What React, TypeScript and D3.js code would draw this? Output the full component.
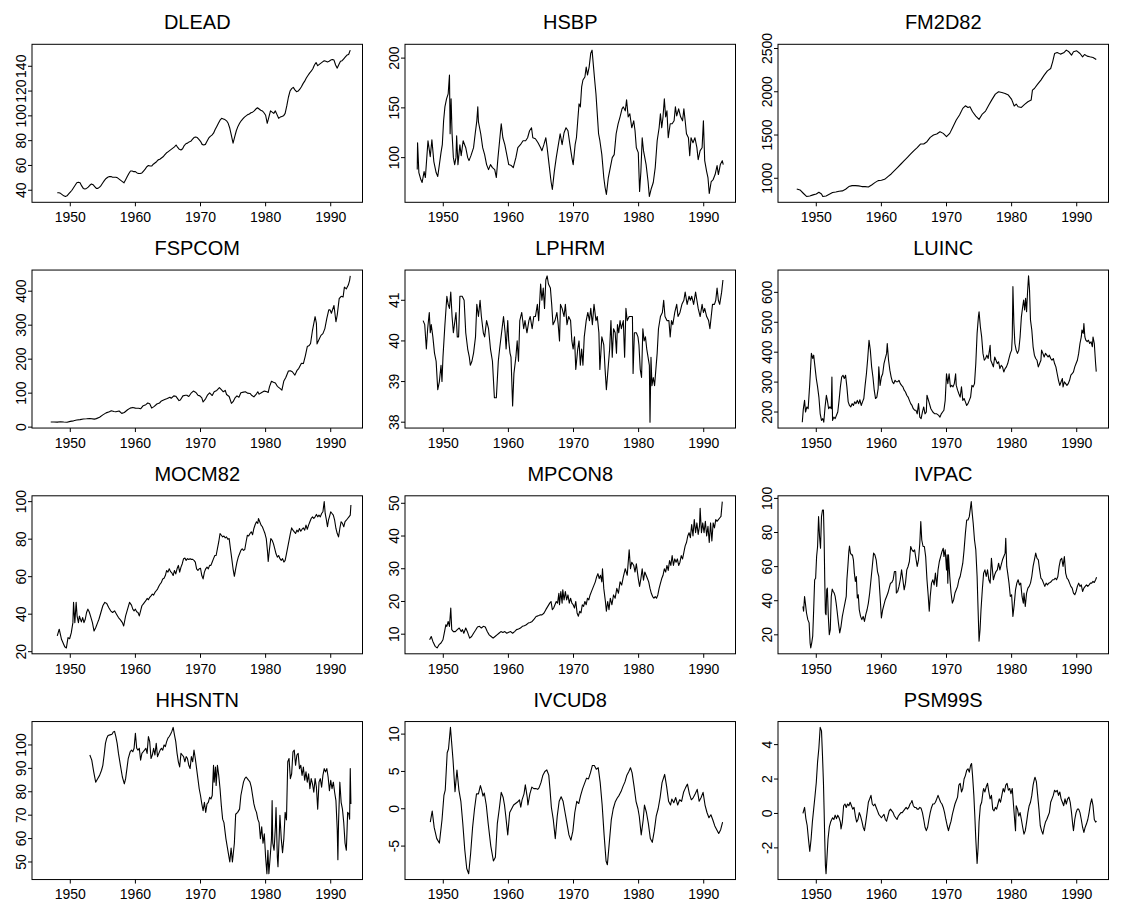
import React from "react";
import * as d3 from "d3";

type Pt = [number, number];

// Shared monthly time base of the data set (all panels use the same x range)
const seriesStart = 1946;
const seriesEnd = 1993;
const xTicks = [1950, 1960, 1970, 1980, 1990];

// DLEAD, quarterly from 1948 Q1
const dleadStartYear = 1948;
const dleadQuarterly = [
  38, 38, 37.5, 36.5, 35.5, 35, 35.5, 37, 38.5, 40, 42, 44, 46, 46.5, 46, 43.5,
  41.5, 41, 41.5, 42.5, 44, 45, 44.5, 43, 41.5, 41.5, 42.5, 44, 46, 48, 49.5, 50.5,
  51, 51, 50.5, 50.5, 50.5, 50, 49, 48, 47, 46, 48.5, 51, 53.5, 55.5, 55.5, 55,
  55, 54, 53.5, 53.5, 54, 55.5, 57, 59, 60, 59.5, 59.5, 61, 62, 63, 64.5, 65,
  66, 67, 68.5, 70, 71, 72, 73, 74, 75, 76.5, 74.5, 73, 72.5, 73.5, 76, 77.5,
  78, 79, 79.5, 81, 82.5, 83, 82.5, 81, 79.5, 77, 76.5, 77, 79.5, 82, 83.5, 84.5,
  86, 89, 91.5, 94, 96.5, 98, 97.5, 97, 96, 94, 90, 84, 78, 83, 88, 91.5,
  94, 96, 97.5, 99, 100, 101, 101.5, 102.5, 103, 104, 105.5, 106.5, 105.5, 104.5, 104, 102.5,
  100.5, 94, 99, 104, 103, 102, 104, 101, 98, 99, 99.5, 100, 102, 108, 115, 120,
  122, 123, 121, 119.5, 120, 121.5, 123.5, 126, 128, 130.5, 132.5, 134.5, 136, 138, 141, 143,
  140.5, 141.5, 142.5, 143.5, 144.5, 144, 143.5, 144, 145, 145.5, 145, 141, 138.5, 141.5, 144, 144.5,
  146, 147.5, 149, 149.5, 153,
];

const hsbpSeries: Pt[] = [
  [1946.0, 88], [1946.05, 115], [1946.25, 85], [1946.55, 78], [1946.75, 75], [1947.05, 86], [1947.25, 80],
  [1947.65, 117], [1948.0, 101], [1948.25, 118], [1948.55, 96], [1948.9, 85], [1949.15, 81], [1949.4, 93],
  [1949.65, 105], [1949.85, 113], [1950.05, 137], [1950.25, 151], [1950.5, 159], [1950.75, 164], [1950.95, 183],
  [1951.05, 124], [1951.2, 159], [1951.35, 124], [1951.55, 100], [1951.75, 93], [1951.95, 100], [1952.05, 122],
  [1952.25, 93], [1952.55, 113], [1952.75, 102], [1953.05, 117], [1953.45, 110], [1953.75, 100], [1953.95, 97],
  [1954.25, 102], [1954.65, 110], [1954.9, 124], [1955.15, 137], [1955.3, 151], [1955.4, 136], [1955.75, 124],
  [1956.05, 110], [1956.35, 103], [1956.65, 93], [1956.95, 88], [1957.25, 93], [1957.55, 90], [1957.9, 88],
  [1958.15, 80], [1958.4, 100], [1958.65, 117], [1958.9, 134], [1959.15, 120], [1959.45, 113], [1959.75, 103],
  [1960.05, 93], [1960.45, 92], [1960.75, 90], [1961.15, 100], [1961.45, 110], [1961.85, 113], [1962.25, 117],
  [1962.65, 117], [1962.95, 120], [1963.25, 127], [1963.55, 130], [1963.75, 120], [1964.15, 119], [1964.55, 115],
  [1964.95, 110], [1965.15, 107], [1965.45, 113], [1965.75, 120], [1965.95, 110], [1966.25, 93], [1966.55, 76],
  [1966.75, 68], [1967.05, 86], [1967.35, 100], [1967.65, 112], [1967.95, 124], [1968.25, 113], [1968.55, 125],
  [1968.85, 130], [1969.15, 127], [1969.45, 113], [1969.75, 100], [1969.95, 93], [1970.25, 113], [1970.45, 120],
  [1970.65, 137], [1970.85, 154], [1971.05, 151], [1971.25, 171], [1971.45, 178], [1971.75, 181], [1971.95, 191],
  [1972.15, 183], [1972.4, 191], [1972.65, 205], [1972.85, 208], [1973.05, 193], [1973.25, 178], [1973.45, 164],
  [1973.65, 144], [1973.85, 124], [1974.05, 117], [1974.35, 103], [1974.65, 80], [1974.85, 70], [1975.05, 63],
  [1975.35, 80], [1975.65, 90], [1975.95, 100], [1976.25, 103], [1976.55, 124], [1976.85, 134], [1977.15, 141],
  [1977.45, 149], [1977.65, 151], [1977.95, 147], [1978.15, 158], [1978.4, 141], [1978.65, 144], [1978.95, 130],
  [1979.25, 137], [1979.45, 127], [1979.65, 110], [1979.95, 105], [1980.15, 66], [1980.35, 86], [1980.55, 120],
  [1980.75, 107], [1980.95, 100], [1981.15, 93], [1981.45, 76], [1981.65, 61], [1981.95, 69], [1982.25, 75],
  [1982.55, 90], [1982.85, 117], [1983.15, 130], [1983.35, 144], [1983.55, 130], [1983.75, 141], [1983.95, 159],
  [1984.15, 141], [1984.35, 147], [1984.55, 120], [1984.85, 134], [1985.15, 134], [1985.45, 137], [1985.65, 151],
  [1985.85, 142], [1986.15, 149], [1986.45, 141], [1986.75, 137], [1986.95, 149], [1987.15, 137], [1987.35, 124],
  [1987.65, 120], [1987.85, 102], [1988.05, 120], [1988.35, 115], [1988.65, 120], [1988.95, 110], [1989.15, 98],
  [1989.45, 107], [1989.75, 110], [1989.95, 137], [1990.15, 97], [1990.45, 86], [1990.65, 80], [1990.85, 64],
  [1991.15, 76], [1991.45, 78], [1991.75, 83], [1992.05, 92], [1992.25, 83], [1992.55, 93], [1992.85, 97], [1993.0, 93],
];

const fm2d82Series: Pt[] = [
  [1947.0, 877], [1947.5, 865], [1948.0, 827], [1948.5, 790], [1949.0, 796], [1949.5, 808], [1950.0, 819],
  [1950.4, 838], [1950.8, 819], [1951.0, 790], [1951.5, 796], [1952.0, 815], [1952.5, 835], [1953.0, 842],
  [1953.5, 850], [1954.0, 854], [1954.5, 873], [1955.0, 904], [1955.5, 915], [1956.0, 915], [1956.5, 912],
  [1957.0, 904], [1957.5, 904], [1958.0, 900], [1958.5, 923], [1959.0, 950], [1959.5, 973], [1960.0, 977],
  [1960.5, 988], [1961.0, 1019], [1961.5, 1050], [1962.0, 1088], [1962.5, 1127], [1963.0, 1165], [1963.5, 1204],
  [1964.0, 1242], [1964.5, 1281], [1965.0, 1319], [1965.5, 1354], [1966.0, 1396], [1966.5, 1396], [1967.0, 1423],
  [1967.5, 1473], [1968.0, 1500], [1968.5, 1512], [1969.0, 1538], [1969.5, 1519], [1970.0, 1481], [1970.5, 1519],
  [1971.0, 1596], [1971.5, 1673], [1972.0, 1731], [1972.5, 1808], [1972.9, 1838], [1973.3, 1819], [1973.6, 1827],
  [1974.0, 1769], [1974.5, 1719], [1975.0, 1681], [1975.5, 1742], [1976.0, 1777], [1976.5, 1846], [1977.0, 1912],
  [1977.5, 1973], [1978.0, 2000], [1978.5, 1992], [1979.0, 1981], [1979.5, 1962], [1980.0, 1912], [1980.4, 1835],
  [1980.7, 1858], [1981.0, 1827], [1981.5, 1819], [1982.0, 1854], [1982.5, 1885], [1983.0, 1904], [1983.2, 2019],
  [1983.5, 2038], [1984.0, 2088], [1984.5, 2135], [1985.0, 2192], [1985.5, 2242], [1986.0, 2269], [1986.3, 2346],
  [1986.6, 2442], [1987.0, 2454], [1987.5, 2435], [1988.0, 2450], [1988.4, 2481], [1988.8, 2462], [1989.2, 2423],
  [1989.5, 2462], [1990.0, 2473], [1990.5, 2442], [1990.9, 2404], [1991.2, 2431], [1991.6, 2412], [1992.0, 2404],
  [1992.5, 2396], [1993.0, 2373],
];

const fspcomSeries: Pt[] = [
  [1947.0, 15.2], [1947.5, 15], [1948.0, 14.8], [1948.5, 16], [1949.0, 15], [1949.5, 14.5], [1950.0, 17],
  [1950.5, 18.5], [1951.0, 21], [1951.5, 22], [1952.0, 24], [1952.5, 24.5], [1953.0, 25.5], [1953.7, 23.5],
  [1954.0, 25], [1954.5, 29], [1955.0, 36], [1955.5, 42], [1956.0, 45], [1956.3, 48], [1956.7, 46], [1957.0, 45],
  [1957.5, 47.5], [1957.9, 40.5], [1958.3, 43], [1958.8, 51], [1959.2, 56], [1959.6, 58], [1960.0, 56],
  [1960.5, 55.5], [1960.8, 54], [1961.2, 63], [1961.6, 66], [1961.9, 71], [1962.2, 69], [1962.5, 56], [1962.9, 61],
  [1963.3, 68], [1963.7, 71], [1964.0, 77], [1964.5, 81], [1964.9, 84], [1965.3, 88], [1965.5, 85], [1965.9, 92],
  [1966.2, 91], [1966.7, 78], [1966.9, 80], [1967.3, 92], [1967.7, 94], [1967.9, 94], [1968.2, 90], [1968.6, 101],
  [1968.9, 106], [1969.3, 102], [1969.6, 94], [1969.9, 92], [1970.2, 86], [1970.4, 74], [1970.8, 84], [1971.1, 95],
  [1971.4, 101], [1971.8, 93], [1972.1, 104], [1972.5, 108], [1972.9, 116], [1973.2, 110], [1973.5, 104],
  [1973.8, 108], [1974.0, 96], [1974.4, 90], [1974.75, 70], [1975.0, 75], [1975.3, 86], [1975.6, 92], [1975.9, 88],
  [1976.2, 101], [1976.6, 103], [1976.9, 104], [1977.2, 100], [1977.6, 99], [1977.9, 93], [1978.2, 89], [1978.6, 98],
  [1978.8, 104], [1979.0, 97], [1979.4, 102], [1979.8, 106], [1980.2, 104], [1980.4, 102], [1980.6, 119],
  [1980.9, 135], [1981.2, 132], [1981.5, 130], [1981.8, 120], [1982.2, 114], [1982.5, 109], [1982.8, 136],
  [1983.1, 146], [1983.5, 165], [1983.8, 166], [1984.1, 163], [1984.5, 153], [1984.8, 166], [1985.1, 173],
  [1985.5, 188], [1985.8, 187], [1986.1, 210], [1986.4, 237], [1986.7, 240], [1986.9, 246], [1987.2, 285],
  [1987.6, 325], [1987.8, 305], [1987.9, 245], [1988.2, 258], [1988.5, 270], [1988.8, 275], [1989.1, 290],
  [1989.4, 320], [1989.7, 345], [1989.9, 345], [1990.1, 335], [1990.5, 358], [1990.8, 310], [1991.0, 330],
  [1991.3, 378], [1991.6, 385], [1991.9, 383], [1992.1, 412], [1992.4, 407], [1992.7, 418], [1992.9, 432],
  [1993.0, 445],
];

const lphrmSeries: Pt[] = [
  [1946.9, 40.5], [1947.15, 40.4], [1947.4, 39.8], [1947.6, 40.3], [1947.85, 40.7], [1948.0, 40.2], [1948.15, 40.4],
  [1948.4, 40.1], [1948.65, 39.7], [1948.9, 39.5], [1949.15, 38.8], [1949.4, 39.0], [1949.65, 39.4], [1949.8, 39.0],
  [1949.95, 39.6], [1950.25, 40.4], [1950.55, 41.1], [1950.75, 40.9], [1950.95, 40.8], [1951.15, 41.2],
  [1951.35, 40.6], [1951.55, 40.2], [1951.95, 40.7], [1952.15, 40.1], [1952.35, 40.1], [1952.55, 41.1],
  [1952.9, 41.1], [1953.2, 41.0], [1953.45, 40.2], [1953.75, 39.8], [1954.0, 39.6], [1954.15, 39.4], [1954.4, 39.5],
  [1954.65, 39.7], [1954.95, 40.1], [1955.15, 40.9], [1955.4, 40.6], [1955.65, 41.0], [1955.85, 40.6],
  [1956.15, 40.2], [1956.35, 40.1], [1956.65, 40.5], [1956.95, 40.3], [1957.25, 39.8], [1957.55, 39.5],
  [1957.85, 38.6], [1958.15, 38.6], [1958.45, 39.5], [1958.65, 39.8], [1958.95, 40.2], [1959.25, 40.6],
  [1959.5, 40.2], [1959.65, 39.8], [1959.9, 40.5], [1960.05, 40.0], [1960.25, 39.7], [1960.4, 39.6],
  [1960.65, 38.4], [1960.85, 39.2], [1961.15, 39.6], [1961.35, 40.0], [1961.55, 39.5], [1961.75, 40.5],
  [1962.05, 40.7], [1962.35, 40.3], [1962.55, 40.5], [1962.85, 40.2], [1963.15, 40.5], [1963.35, 40.6],
  [1963.65, 40.3], [1963.9, 40.6], [1964.15, 40.6], [1964.45, 40.9], [1964.65, 40.5], [1964.95, 41.4],
  [1965.15, 41.0], [1965.35, 41.3], [1965.55, 40.8], [1965.75, 41.5], [1965.95, 41.6], [1966.15, 41.4],
  [1966.45, 41.3], [1966.65, 40.9], [1966.85, 40.4], [1967.15, 40.5], [1967.45, 40.7], [1967.65, 40.4],
  [1967.85, 40.0], [1968.0, 40.9], [1968.25, 40.8], [1968.55, 40.6], [1968.75, 40.9], [1969.0, 40.4],
  [1969.25, 40.6], [1969.55, 40.5], [1969.75, 40.0], [1969.95, 39.8], [1970.15, 40.1], [1970.35, 39.3],
  [1970.65, 39.8], [1970.85, 40.0], [1971.05, 39.4], [1971.25, 39.8], [1971.45, 39.4], [1971.65, 40.1],
  [1971.95, 40.5], [1972.2, 40.7], [1972.45, 40.5], [1972.65, 40.8], [1972.9, 40.4], [1973.15, 40.9],
  [1973.45, 40.5], [1973.65, 40.6], [1973.9, 40.2], [1974.05, 39.3], [1974.35, 40.1], [1974.65, 39.9],
  [1974.85, 39.3], [1975.05, 38.8], [1975.25, 39.2], [1975.55, 39.8], [1975.75, 40.5], [1975.95, 39.6],
  [1976.15, 40.3], [1976.4, 40.2], [1976.6, 39.7], [1976.75, 40.4], [1976.95, 40.2], [1977.15, 40.5],
  [1977.35, 40.3], [1977.65, 40.5], [1977.85, 39.6], [1978.05, 40.8], [1978.25, 40.5], [1978.55, 40.6],
  [1978.75, 40.6], [1979.05, 40.6], [1979.15, 39.2], [1979.35, 40.2], [1979.65, 40.2], [1979.9, 40.1],
  [1980.05, 39.9], [1980.25, 39.3], [1980.45, 39.1], [1980.65, 40.3], [1980.85, 40.0], [1981.05, 40.1],
  [1981.25, 39.8], [1981.45, 39.6], [1981.65, 39.4], [1981.75, 38.0], [1981.9, 39.6], [1982.05, 38.9],
  [1982.25, 39.1], [1982.45, 38.9], [1982.65, 39.3], [1982.85, 39.7], [1983.05, 40.3], [1983.35, 40.6],
  [1983.65, 40.7], [1983.85, 41.0], [1984.05, 40.6], [1984.35, 40.5], [1984.65, 40.5], [1984.85, 40.1],
  [1985.05, 40.5], [1985.25, 40.4], [1985.55, 40.7], [1985.85, 40.9], [1986.05, 40.6], [1986.35, 40.7],
  [1986.65, 40.9], [1986.95, 41.0], [1987.15, 41.2], [1987.45, 40.9], [1987.75, 41.1], [1987.95, 41.0],
  [1988.15, 41.1], [1988.45, 40.9], [1988.75, 41.2], [1988.95, 41.0], [1989.15, 40.8], [1989.45, 40.6],
  [1989.75, 40.9], [1989.95, 40.7], [1990.15, 40.8], [1990.45, 40.6], [1990.75, 40.5], [1990.95, 40.3],
  [1991.15, 40.6], [1991.35, 40.9], [1991.65, 40.9], [1991.85, 41.0], [1992.05, 41.3], [1992.25, 41.0],
  [1992.45, 40.9], [1992.75, 41.2], [1992.95, 41.5],
];

const luincSeries: Pt[] = [
  [1947.85, 166], [1948.0, 208], [1948.2, 239], [1948.35, 200], [1948.55, 217], [1948.75, 211], [1949.0, 295],
  [1949.25, 396], [1949.45, 379], [1949.6, 390], [1949.8, 351], [1950.0, 312], [1950.2, 284], [1950.4, 250],
  [1950.6, 194], [1950.8, 172], [1951.0, 178], [1951.15, 166], [1951.35, 217], [1951.55, 256], [1951.7, 239],
  [1951.9, 211], [1952.1, 217], [1952.3, 211], [1952.4, 317], [1952.5, 172], [1952.7, 183], [1952.9, 178],
  [1953.1, 189], [1953.3, 200], [1953.5, 239], [1953.7, 284], [1953.9, 317], [1954.1, 323], [1954.3, 312],
  [1954.5, 323], [1954.7, 284], [1954.9, 234], [1955.1, 222], [1955.3, 217], [1955.5, 228], [1955.7, 222],
  [1955.9, 234], [1956.1, 228], [1956.3, 239], [1956.5, 228], [1956.7, 241], [1956.9, 222], [1957.1, 234],
  [1957.3, 245], [1957.5, 289], [1957.7, 328], [1957.9, 379], [1958.1, 440], [1958.3, 407], [1958.5, 351],
  [1958.7, 317], [1958.9, 273], [1959.1, 245], [1959.3, 250], [1959.5, 278], [1959.6, 351], [1959.8, 289],
  [1960.0, 317], [1960.2, 328], [1960.4, 362], [1960.6, 379], [1960.8, 396], [1960.9, 429], [1961.1, 373],
  [1961.3, 340], [1961.5, 317], [1961.7, 301], [1961.9, 295], [1962.1, 306], [1962.3, 301], [1962.5, 301],
  [1962.7, 306], [1962.9, 295], [1963.1, 289], [1963.3, 284], [1963.5, 273], [1963.7, 267], [1963.9, 256],
  [1964.1, 250], [1964.3, 239], [1964.5, 228], [1964.7, 222], [1964.9, 211], [1965.1, 206], [1965.3, 206],
  [1965.5, 194], [1965.7, 228], [1965.9, 183], [1966.1, 178], [1966.3, 200], [1966.5, 217], [1966.7, 194],
  [1966.9, 200], [1967.0, 256], [1967.3, 234], [1967.6, 211], [1967.9, 200], [1968.2, 194], [1968.5, 194],
  [1968.8, 189], [1969.0, 183], [1969.2, 194], [1969.4, 200], [1969.6, 206], [1969.8, 239], [1970.0, 328],
  [1970.2, 295], [1970.4, 328], [1970.6, 284], [1970.8, 289], [1971.0, 284], [1971.2, 295], [1971.4, 328],
  [1971.5, 289], [1971.7, 273], [1971.9, 261], [1972.1, 250], [1972.3, 284], [1972.5, 239], [1972.7, 245],
  [1972.9, 234], [1973.1, 222], [1973.3, 228], [1973.5, 239], [1973.7, 250], [1973.9, 289], [1974.1, 284],
  [1974.3, 295], [1974.5, 362], [1974.7, 463], [1974.9, 518], [1975.0, 535], [1975.2, 485], [1975.4, 451],
  [1975.6, 396], [1975.8, 373], [1976.0, 379], [1976.2, 390], [1976.4, 379], [1976.6, 407], [1976.7, 423],
  [1976.8, 373], [1977.0, 362], [1977.2, 351], [1977.4, 384], [1977.6, 373], [1977.8, 362], [1978.0, 368],
  [1978.2, 345], [1978.4, 356], [1978.6, 351], [1978.8, 334], [1979.0, 345], [1979.2, 351], [1979.4, 362],
  [1979.6, 379], [1979.8, 396], [1980.0, 407], [1980.1, 451], [1980.2, 619], [1980.35, 496], [1980.5, 429],
  [1980.7, 407], [1980.9, 396], [1981.1, 407], [1981.3, 451], [1981.5, 518], [1981.7, 552], [1981.85, 574],
  [1982.0, 541], [1982.15, 580], [1982.3, 535], [1982.45, 602], [1982.6, 655], [1982.75, 608], [1982.9, 507],
  [1983.1, 474], [1983.3, 418], [1983.5, 390], [1983.7, 379], [1983.9, 373], [1984.1, 351], [1984.3, 362],
  [1984.5, 373], [1984.6, 407], [1984.8, 396], [1985.0, 384], [1985.2, 396], [1985.4, 390], [1985.6, 384],
  [1985.8, 390], [1986.0, 379], [1986.2, 373], [1986.4, 379], [1986.6, 362], [1986.8, 351], [1987.0, 328],
  [1987.2, 306], [1987.4, 289], [1987.6, 301], [1987.8, 312], [1987.9, 284], [1988.1, 301], [1988.3, 295],
  [1988.5, 289], [1988.7, 295], [1988.9, 306], [1989.1, 323], [1989.3, 328], [1989.5, 334], [1989.7, 351],
  [1989.9, 362], [1990.1, 373], [1990.3, 396], [1990.5, 429], [1990.7, 451], [1990.8, 474], [1991.0, 463],
  [1991.1, 496], [1991.25, 451], [1991.4, 440], [1991.6, 435], [1991.8, 440], [1992.0, 429], [1992.2, 435],
  [1992.4, 418], [1992.5, 451], [1992.7, 429], [1992.9, 362], [1993.0, 335],
];

const mocm82Series: Pt[] = [
  [1948.0, 28.4], [1948.3, 32], [1948.65, 26.6], [1949.15, 22.6], [1949.4, 22], [1949.65, 27.5], [1949.9, 26.9],
  [1950.15, 30], [1950.4, 35.5], [1950.5, 46.3], [1950.7, 35.5], [1950.9, 46.3], [1951.05, 39], [1951.25, 35.5],
  [1951.4, 39], [1951.7, 35.9], [1951.9, 38.2], [1952.1, 35.5], [1952.3, 37.3], [1952.5, 40.9], [1952.7, 42.7],
  [1952.9, 41.3], [1953.1, 39.1], [1953.4, 35.5], [1953.65, 31], [1953.9, 32.8], [1954.2, 35.5], [1954.4, 37.3],
  [1954.7, 40.9], [1955.0, 44.5], [1955.3, 46.3], [1955.6, 45.7], [1955.9, 43.6], [1956.2, 41.8], [1956.5, 40.9],
  [1956.8, 41.8], [1957.1, 40], [1957.4, 38.2], [1957.7, 37], [1958.0, 35.5], [1958.2, 33.7], [1958.5, 39.1],
  [1958.8, 42.7], [1959.1, 46.3], [1959.4, 44.8], [1959.6, 42.7], [1959.8, 41.8], [1960.0, 42.7], [1960.2, 41.3],
  [1960.4, 40.9], [1960.6, 39.1], [1960.8, 41.8], [1961.0, 44.5], [1961.2, 45.4], [1961.4, 46.3], [1961.6, 47.2],
  [1961.8, 48.4], [1962.0, 47.7], [1962.2, 49], [1962.4, 49.8], [1962.6, 50.7], [1962.8, 50.2], [1963.0, 51.6],
  [1963.2, 52.5], [1963.4, 53.4], [1963.6, 54.9], [1963.8, 56.1], [1964.0, 57], [1964.2, 58.8], [1964.4, 59.2],
  [1964.6, 60.6], [1964.8, 63.3], [1965.0, 62.4], [1965.2, 64.2], [1965.4, 62.7], [1965.6, 62], [1965.8, 60.6],
  [1966.0, 63.3], [1966.2, 61.5], [1966.4, 64.2], [1966.6, 66], [1966.8, 62.4], [1967.0, 65.1], [1967.2, 66.9],
  [1967.4, 69.6], [1967.6, 69.9], [1967.8, 68.7], [1968.0, 69.6], [1968.2, 69.2], [1968.4, 69.6], [1968.6, 69.2],
  [1968.8, 69.2], [1969.0, 68.7], [1969.2, 67.8], [1969.4, 64.2], [1969.6, 63.3], [1969.8, 64.2], [1970.0, 64.5],
  [1970.2, 60.6], [1970.4, 58.8], [1970.6, 62.4], [1970.8, 64.2], [1971.0, 65.1], [1971.2, 64.2], [1971.4, 66],
  [1971.6, 66], [1971.8, 67.8], [1972.0, 69.6], [1972.2, 71.3], [1972.4, 71.3], [1972.6, 74.9], [1972.8, 78.5],
  [1973.0, 83], [1973.2, 82.1], [1973.4, 81.2], [1973.6, 81.7], [1973.8, 80.7], [1974.0, 81.2], [1974.2, 79.9],
  [1974.4, 80.3], [1974.6, 74.9], [1974.8, 69.6], [1975.0, 64.2], [1975.2, 60.2], [1975.4, 64.2], [1975.6, 67.8],
  [1975.8, 70.4], [1976.0, 72.2], [1976.2, 74], [1976.4, 74.9], [1976.6, 74], [1976.8, 74.5], [1977.0, 78.5],
  [1977.2, 82.1], [1977.4, 81.7], [1977.6, 83], [1977.8, 83.9], [1978.0, 82.4], [1978.2, 85.7], [1978.4, 87.8],
  [1978.6, 89.3], [1978.8, 88.4], [1978.9, 91], [1979.1, 89.3], [1979.3, 87.5], [1979.5, 86.6], [1979.7, 84.8],
  [1979.9, 83], [1980.1, 80.3], [1980.3, 73.1], [1980.4, 68.1], [1980.6, 74.9], [1980.8, 80.3], [1981.0, 79.4],
  [1981.2, 77.6], [1981.4, 74.9], [1981.6, 72.2], [1981.8, 70.4], [1982.0, 71.3], [1982.2, 69.6], [1982.4, 68.7],
  [1982.6, 69.6], [1982.8, 67.8], [1983.0, 68.7], [1983.2, 72.2], [1983.4, 75.8], [1983.6, 79.4], [1983.8, 83],
  [1984.0, 86], [1984.2, 84.8], [1984.4, 83.9], [1984.6, 83], [1984.8, 84.8], [1985.0, 83.9], [1985.2, 85.7],
  [1985.4, 84.2], [1985.6, 85.3], [1985.8, 86], [1986.0, 84.8], [1986.2, 87.5], [1986.4, 85.3], [1986.6, 87.5],
  [1986.8, 89.3], [1987.0, 91], [1987.2, 91.9], [1987.4, 91], [1987.6, 91.9], [1987.8, 93.2], [1988.0, 91.9],
  [1988.2, 92.8], [1988.4, 91.9], [1988.6, 93.7], [1988.8, 94.6], [1989.0, 100], [1989.15, 93.7], [1989.3, 91],
  [1989.5, 86.6], [1989.65, 90.1], [1989.8, 91.9], [1990.0, 94.6], [1990.2, 93.7], [1990.4, 92.8], [1990.6, 90.1],
  [1990.8, 85.7], [1991.0, 83], [1991.2, 81.2], [1991.4, 85.7], [1991.6, 89.3], [1991.8, 88.4], [1992.0, 86.6],
  [1992.2, 89.3], [1992.4, 90.1], [1992.6, 91], [1992.8, 91.9], [1993.0, 92.8], [1993.1, 98.2],
];

const mpcon8Series: Pt[] = [
  [1947.9, 8.3], [1948.15, 9.3], [1948.4, 7.8], [1948.75, 6.3], [1949.05, 5.8], [1949.35, 6.8], [1949.65, 7.3],
  [1949.95, 8.3], [1950.15, 10.3], [1950.4, 12.9], [1950.55, 12.4], [1950.75, 13.9], [1950.95, 12.4],
  [1951.15, 18.0], [1951.3, 11.4], [1951.55, 10.8], [1951.85, 10.8], [1952.15, 11.4], [1952.45, 11.9],
  [1952.75, 10.8], [1952.95, 11.4], [1953.15, 10.3], [1953.45, 11.9], [1953.75, 10.5], [1954.05, 8.8],
  [1954.35, 9.3], [1954.65, 10.3], [1954.95, 11.2], [1955.25, 12.2], [1955.55, 12.4], [1955.85, 11.9],
  [1956.15, 12.4], [1956.45, 12.2], [1956.75, 10.8], [1957.05, 9.8], [1957.35, 9.3], [1957.65, 8.8],
  [1957.95, 9.3], [1958.25, 9.8], [1958.55, 10.3], [1958.85, 10.8], [1959.15, 10.5], [1959.45, 10.8],
  [1959.75, 10.3], [1960.05, 10.6], [1960.35, 10.8], [1960.65, 10.3], [1960.95, 10.8], [1961.25, 11.4],
  [1961.55, 11.6], [1961.85, 11.9], [1962.15, 12.4], [1962.45, 12.6], [1962.75, 12.9], [1963.05, 13.4],
  [1963.35, 13.6], [1963.65, 13.9], [1963.95, 14.6], [1964.25, 15.4], [1964.55, 15.6], [1964.85, 15.9],
  [1965.15, 15.9], [1965.45, 16.4], [1965.75, 17.5], [1966.05, 18.5], [1966.35, 19.5], [1966.55, 20],
  [1966.75, 17.5], [1966.95, 18], [1967.15, 19], [1967.35, 20], [1967.55, 19.5], [1967.75, 22.5], [1967.85, 19],
  [1968.05, 23], [1968.25, 19.5], [1968.35, 23.6], [1968.55, 20.5], [1968.75, 23], [1968.95, 20.5], [1969.15, 22],
  [1969.35, 19.5], [1969.55, 21], [1969.75, 19.5], [1969.95, 19], [1970.15, 18], [1970.35, 20], [1970.55, 16.5],
  [1970.75, 15.5], [1970.95, 17], [1971.15, 16.5], [1971.35, 19], [1971.55, 18.5], [1971.75, 20], [1971.95, 19],
  [1972.15, 21], [1972.35, 20.5], [1972.55, 22], [1972.75, 23], [1972.95, 24], [1973.15, 25], [1973.35, 26],
  [1973.55, 27.5], [1973.75, 28.5], [1973.95, 27], [1974.15, 28], [1974.35, 26], [1974.45, 30], [1974.65, 24],
  [1974.9, 20], [1975.05, 17], [1975.25, 20], [1975.45, 17.5], [1975.65, 21], [1975.9, 19], [1976.15, 22],
  [1976.4, 21], [1976.65, 24], [1976.9, 22.5], [1977.15, 26], [1977.4, 25], [1977.65, 27.5], [1977.95, 30],
  [1978.25, 28], [1978.55, 35.8], [1978.75, 30], [1978.95, 32], [1979.25, 31], [1979.45, 29], [1979.65, 31.5],
  [1979.95, 27], [1980.15, 24.6], [1980.35, 27], [1980.55, 30], [1980.75, 26.5], [1980.95, 29], [1981.15, 28],
  [1981.35, 27], [1981.55, 26], [1981.75, 24], [1981.95, 22.5], [1982.15, 21.5], [1982.35, 21], [1982.55, 21.5],
  [1982.75, 21], [1982.95, 22], [1983.15, 24], [1983.35, 25.5], [1983.55, 27], [1983.75, 28], [1983.95, 30],
  [1984.15, 29], [1984.35, 31], [1984.55, 29.5], [1984.75, 32.5], [1984.95, 31], [1985.15, 34], [1985.35, 31],
  [1985.55, 33], [1985.75, 32], [1985.95, 33], [1986.15, 31], [1986.35, 32], [1986.55, 34], [1986.75, 33],
  [1986.95, 35], [1987.15, 37], [1987.35, 38], [1987.55, 40], [1987.75, 41], [1987.95, 39.5], [1988.15, 43.5],
  [1988.35, 40], [1988.55, 45], [1988.75, 41], [1988.95, 44], [1989.15, 40.5], [1989.35, 43], [1989.45, 48.5],
  [1989.65, 41], [1989.85, 44], [1990.05, 41], [1990.25, 44.5], [1990.45, 40], [1990.65, 43], [1990.85, 38],
  [1991.05, 44], [1991.25, 38.5], [1991.45, 44], [1991.65, 42.5], [1991.85, 45], [1992.05, 44.5], [1992.25, 45],
  [1992.45, 45.5], [1992.65, 46], [1992.85, 50.5],
];

const ivpacSeries: Pt[] = [
  [1947.95, 36.7], [1948.05, 33.8], [1948.2, 42.5], [1948.35, 37.7], [1948.5, 32.8], [1948.7, 28.9], [1948.9, 27],
  [1949.05, 15.3], [1949.15, 12.3], [1949.3, 15.3], [1949.45, 19.2], [1949.6, 34.7], [1949.75, 52.3],
  [1949.9, 53.2], [1950.05, 65.9], [1950.2, 71.8], [1950.35, 89.3], [1950.5, 77.6], [1950.65, 70.8],
  [1950.8, 89.3], [1950.95, 93.2], [1951.1, 93.2], [1951.2, 77.6], [1951.3, 52.3], [1951.4, 32.8], [1951.5, 31.8],
  [1951.6, 46.4], [1951.7, 47.4], [1951.85, 30.8], [1952.0, 20.1], [1952.15, 23], [1952.3, 42.5], [1952.45, 46.8],
  [1952.6, 45.4], [1952.75, 44.5], [1952.9, 42.5], [1953.05, 38.6], [1953.2, 33.8], [1953.4, 27], [1953.6, 21.1],
  [1953.8, 25], [1954.0, 30.8], [1954.2, 34.7], [1954.4, 38.6], [1954.6, 42.5], [1954.7, 52.3], [1954.85, 60.1],
  [1955.0, 68.8], [1955.1, 72.1], [1955.25, 67.9], [1955.4, 66.9], [1955.55, 66.9], [1955.7, 64], [1955.85, 56.2],
  [1956.0, 51.3], [1956.15, 54.2], [1956.3, 41.6], [1956.45, 43.5], [1956.6, 34.7], [1956.8, 30.8], [1957.0, 28.9],
  [1957.2, 30.8], [1957.4, 27.9], [1957.6, 31.8], [1957.8, 34.7], [1958.0, 38.6], [1958.2, 44.5], [1958.4, 52.3],
  [1958.6, 60.1], [1958.8, 67.9], [1959.0, 66.9], [1959.2, 64], [1959.4, 57.1], [1959.6, 54.2], [1959.8, 42.5],
  [1960.0, 29.9], [1960.2, 34.7], [1960.4, 37.7], [1960.6, 40.6], [1960.8, 42.5], [1961.0, 44.5], [1961.2, 47.4],
  [1961.4, 50.3], [1961.6, 50.7], [1961.8, 52.3], [1962.0, 57.1], [1962.2, 57.1], [1962.3, 44.5], [1962.5, 45.4],
  [1962.7, 48.4], [1962.9, 52.3], [1963.1, 58.1], [1963.3, 52.3], [1963.5, 46.4], [1963.7, 50.3], [1963.9, 58.1],
  [1964.1, 60.1], [1964.3, 63], [1964.5, 71.8], [1964.7, 69.8], [1964.9, 68.8], [1965.1, 69.8], [1965.3, 64.9],
  [1965.5, 60.1], [1965.7, 64], [1965.9, 73.7], [1966.05, 86.4], [1966.2, 75.6], [1966.4, 71.8], [1966.6, 71.8],
  [1966.8, 65.9], [1967.0, 52.3], [1967.2, 42.5], [1967.35, 33.8], [1967.5, 42.5], [1967.7, 50.3], [1967.9, 52.3],
  [1968.1, 49.3], [1968.3, 56.2], [1968.5, 48.4], [1968.7, 58.1], [1968.9, 63], [1969.1, 65.9], [1969.3, 68.8],
  [1969.5, 70.8], [1969.6, 65.9], [1969.8, 69.8], [1970.0, 58.1], [1970.1, 66.9], [1970.2, 50.3], [1970.3, 66.9],
  [1970.5, 54.2], [1970.7, 44.5], [1970.9, 38.6], [1971.1, 40.6], [1971.3, 44.5], [1971.5, 46.4], [1971.7, 48.4],
  [1971.9, 52.3], [1972.1, 54.2], [1972.3, 58.1], [1972.5, 62], [1972.7, 69.8], [1972.9, 79.5], [1973.1, 87.3],
  [1973.3, 87.3], [1973.5, 89.3], [1973.7, 95.1], [1973.8, 98.1], [1973.95, 91.2], [1974.1, 85.4], [1974.3, 75.6],
  [1974.5, 69.8], [1974.7, 54.2], [1974.85, 34.7], [1975.0, 16.2], [1975.15, 23], [1975.3, 34.7], [1975.5, 46.4],
  [1975.7, 56.2], [1975.9, 58.1], [1976.1, 54.2], [1976.3, 58.1], [1976.5, 52.3], [1976.7, 50.3], [1976.9, 64.9],
  [1977.1, 56.2], [1977.2, 52.3], [1977.4, 55.2], [1977.6, 57.1], [1977.8, 58.1], [1978.0, 62], [1978.2, 58.1],
  [1978.4, 61], [1978.6, 64], [1978.8, 65.9], [1979.0, 67.9], [1979.1, 76.6], [1979.25, 60.1], [1979.4, 56.2],
  [1979.6, 50.3], [1979.8, 42.5], [1980.0, 43.5], [1980.2, 30.8], [1980.4, 37.7], [1980.6, 46.4], [1980.8, 50.3],
  [1981.0, 52.3], [1981.2, 49.3], [1981.4, 50.3], [1981.6, 42.5], [1981.8, 38.6], [1981.9, 44.5], [1982.1, 36.7],
  [1982.3, 44.5], [1982.5, 47.4], [1982.7, 48.4], [1982.9, 50.3], [1983.1, 54.2], [1983.3, 60.1], [1983.5, 64],
  [1983.7, 67.9], [1983.9, 64.9], [1984.1, 64], [1984.3, 58.1], [1984.5, 53.2], [1984.7, 52.3], [1984.9, 50.3],
  [1985.1, 48.4], [1985.3, 50.3], [1985.5, 49.3], [1985.7, 50.3], [1985.9, 50.7], [1986.1, 51.3], [1986.3, 52.3],
  [1986.5, 52.3], [1986.7, 53.2], [1986.9, 52.3], [1987.1, 54.2], [1987.3, 60.1], [1987.5, 64], [1987.7, 64.9],
  [1987.9, 60.1], [1988.1, 65.9], [1988.3, 56.2], [1988.5, 53.2], [1988.7, 52.3], [1988.9, 50.3], [1989.1, 48.4],
  [1989.3, 47.4], [1989.5, 44.5], [1989.7, 43.5], [1989.9, 45.4], [1990.1, 48.4], [1990.3, 50.3], [1990.5, 48.4],
  [1990.7, 49.3], [1990.9, 45.4], [1991.1, 47.4], [1991.3, 48.4], [1991.5, 49.3], [1991.7, 48.4], [1991.9, 49.3],
  [1992.1, 50.3], [1992.3, 50.3], [1992.5, 51.3], [1992.7, 50.7], [1992.9, 52.3], [1993.05, 53.8],
];

const hhsntnSeries: Pt[] = [
  [1953.0, 95.7], [1953.3, 93.5], [1953.6, 88.5], [1953.9, 84.1], [1954.2, 85.6], [1954.5, 87], [1954.8, 89.2],
  [1955.0, 91.3], [1955.2, 95.7], [1955.4, 100.7], [1955.6, 102.9], [1955.8, 104], [1956.1, 104.3],
  [1956.4, 104.6], [1956.6, 105.5], [1956.8, 105.8], [1957.0, 103.6], [1957.2, 100.7], [1957.4, 96.4],
  [1957.7, 91.3], [1958.0, 86.3], [1958.3, 83.4], [1958.5, 85.6], [1958.7, 89.9], [1958.9, 94.2], [1959.2, 97.1],
  [1959.4, 97.8], [1959.6, 97.1], [1959.8, 98.6], [1960.0, 105], [1960.2, 98.6], [1960.4, 97.8], [1960.6, 98.6],
  [1960.8, 93.5], [1961.0, 96.4], [1961.2, 97.1], [1961.4, 97.8], [1961.6, 98.6], [1961.8, 96.4], [1962.0, 103.6],
  [1962.2, 101.4], [1962.4, 94.2], [1962.6, 95.7], [1962.8, 98.6], [1963.0, 95.7], [1963.2, 100.7], [1963.4, 95],
  [1963.6, 96.4], [1963.8, 97.8], [1964.0, 98.6], [1964.2, 97.8], [1964.4, 100], [1964.6, 99.3], [1964.8, 101.4],
  [1965.0, 102.9], [1965.2, 103.6], [1965.4, 104.6], [1965.6, 105.8], [1965.8, 107.5], [1966.0, 104.3],
  [1966.2, 101.4], [1966.4, 96.4], [1966.6, 92.8], [1966.8, 90.6], [1967.0, 96.4], [1967.2, 95.7], [1967.4, 95],
  [1967.6, 92.8], [1967.8, 95], [1968.0, 94.2], [1968.2, 91.3], [1968.4, 89.9], [1968.6, 95], [1968.8, 92.8],
  [1969.0, 97.8], [1969.2, 94.2], [1969.4, 89.9], [1969.6, 85.6], [1969.8, 81.3], [1970.0, 78.4], [1970.2, 74.8],
  [1970.4, 71.9], [1970.6, 75.5], [1970.8, 71.2], [1971.0, 74.8], [1971.2, 75.5], [1971.4, 77.6], [1971.6, 76.9],
  [1971.8, 78.4], [1972.0, 91.3], [1972.1, 84.1], [1972.3, 90.6], [1972.4, 82.7], [1972.6, 91.3], [1972.8, 87],
  [1973.0, 81.3], [1973.2, 74], [1973.4, 68.3], [1973.6, 66.8], [1973.9, 60], [1974.2, 55], [1974.5, 50],
  [1974.7, 56], [1974.9, 50], [1975.2, 58], [1975.4, 70.4], [1975.7, 71.2], [1976.0, 72.6], [1976.2, 78.4],
  [1976.4, 81.3], [1976.6, 84.1], [1976.8, 85.6], [1977.0, 86.3], [1977.2, 85.6], [1977.4, 84.9], [1977.6, 84.1],
  [1977.8, 82], [1978.0, 78.4], [1978.2, 74.8], [1978.4, 72.6], [1978.6, 71.2], [1978.8, 68.3], [1979.0, 66.8],
  [1979.2, 60], [1979.4, 65], [1979.6, 58], [1979.8, 62], [1980.0, 52], [1980.2, 45], [1980.35, 55], [1980.5, 45],
  [1980.7, 52], [1980.9, 60], [1981.0, 76.2], [1981.1, 58], [1981.3, 55], [1981.5, 65], [1981.6, 73.3],
  [1981.8, 52], [1981.9, 48], [1982.1, 62], [1982.2, 70], [1982.4, 60], [1982.6, 54], [1982.8, 60], [1983.0, 71.2],
  [1983.2, 68], [1983.4, 92.8], [1983.6, 94.2], [1983.8, 85.6], [1984.0, 87.7], [1984.2, 97.1], [1984.4, 97.8],
  [1984.6, 91.3], [1984.8, 95.7], [1985.0, 96.4], [1985.2, 89.9], [1985.4, 91.3], [1985.6, 87], [1985.8, 90.6],
  [1986.0, 84.9], [1986.2, 88.5], [1986.4, 84.1], [1986.6, 87.7], [1986.8, 81.3], [1987.0, 85.6], [1987.2, 83.4],
  [1987.4, 79.8], [1987.6, 85.6], [1987.8, 82], [1988.0, 72.6], [1988.2, 84.1], [1988.4, 85.6], [1988.6, 82],
  [1988.8, 87], [1989.0, 89.9], [1989.2, 88.5], [1989.4, 89.9], [1989.6, 86.3], [1989.8, 80.5], [1990.0, 84.9],
  [1990.2, 81.3], [1990.4, 84.1], [1990.6, 79.8], [1990.8, 76.2], [1991.0, 63.9], [1991.1, 51], [1991.2, 66.8],
  [1991.4, 84.1], [1991.6, 75.5], [1991.8, 72.6], [1992.0, 66.8], [1992.2, 58], [1992.4, 55], [1992.6, 71.2],
  [1992.8, 70.4], [1992.9, 68.3], [1993.0, 89.9], [1993.1, 74.8],
];

const ivcud8Series: Pt[] = [
  [1948.0, -1.8], [1948.3, -0.3], [1948.6, -2.5], [1949.0, -4.0], [1949.4, -4.6], [1949.8, -1.5], [1950.1, 1.8],
  [1950.3, 2.5], [1950.6, 7.5], [1950.8, 8.0], [1951.1, 10.9], [1951.5, 6.5], [1951.8, 2.3], [1952.1, 5.2],
  [1952.4, 2.5], [1952.7, 1.0], [1953.0, -2.0], [1953.3, -5.5], [1953.6, -8.0], [1953.9, -8.7], [1954.2, -6.0],
  [1954.5, -2.5], [1954.8, 0.0], [1955.1, 2.0], [1955.4, 2.0], [1955.7, 3.1], [1955.9, 2.5], [1956.1, 1.7],
  [1956.3, 2.1], [1956.6, 0.5], [1956.9, -2.0], [1957.3, -5.0], [1957.7, -7.0], [1958.0, -6.5], [1958.3, -2.0],
  [1958.6, 0.0], [1958.9, 2.2], [1959.2, 1.5], [1959.4, 0.5], [1959.6, -1.0], [1959.9, -3.5], [1960.2, -0.5],
  [1960.5, 0.0], [1960.8, 0.5], [1961.1, 0.7], [1961.4, 0.9], [1961.7, 1.2], [1961.9, 0.2], [1962.1, 1.2],
  [1962.4, 2.0], [1962.6, 3.2], [1962.9, 1.5], [1963.0, 0.5], [1963.3, 2.0], [1963.6, 2.9], [1963.9, 2.7],
  [1964.2, 2.7], [1964.5, 2.6], [1964.7, 2.8], [1965.0, 3.5], [1965.3, 4.5], [1965.6, 5.0], [1965.9, 5.2],
  [1966.2, 4.5], [1966.4, 2.5], [1966.6, 0.2], [1966.9, -1.5], [1967.2, -4.0], [1967.5, -1.0], [1967.8, 1.0],
  [1968.1, 1.6], [1968.4, 1.0], [1968.7, -0.5], [1969.0, -2.0], [1969.3, -3.5], [1969.6, -4.2], [1969.9, -3.0],
  [1970.2, -0.5], [1970.5, 1.0], [1970.8, 0.7], [1971.1, 1.8], [1971.4, 2.7], [1971.7, 3.4], [1972.0, 4.1],
  [1972.3, 4.0], [1972.6, 4.8], [1972.9, 5.8], [1973.2, 5.8], [1973.5, 5.3], [1973.8, 5.5], [1974.1, 3.5],
  [1974.4, 0.5], [1974.7, -3.5], [1975.0, -7.0], [1975.2, -7.5], [1975.5, -4.5], [1975.8, -1.5], [1976.1, 0.0],
  [1976.4, 0.9], [1976.7, 1.4], [1977.0, 1.8], [1977.3, 2.3], [1977.6, 3.0], [1977.9, 3.6], [1978.2, 4.5],
  [1978.5, 5.0], [1978.75, 5.5], [1979.0, 4.8], [1979.3, 3.0], [1979.6, 1.0], [1979.9, 0.0], [1980.1, -1.0],
  [1980.4, -3.5], [1980.7, -1.5], [1980.9, 0.5], [1981.2, -0.5], [1981.5, -2.0], [1981.8, -4.0], [1982.1, -4.5],
  [1982.4, -3.0], [1982.7, -1.0], [1983.0, 0.0], [1983.3, 1.5], [1983.6, 3.5], [1984.0, 4.6], [1984.3, 3.0],
  [1984.6, 1.0], [1984.9, 0.5], [1985.1, 1.3], [1985.4, 0.8], [1985.7, 1.5], [1986.0, 0.5], [1986.3, 1.2],
  [1986.6, 1.0], [1986.9, 2.2], [1987.2, 2.8], [1987.5, 3.3], [1987.8, 2.0], [1988.1, 1.2], [1988.4, 1.5],
  [1988.7, 2.0], [1989.0, 2.6], [1989.3, 1.0], [1989.6, 1.5], [1989.9, 2.2], [1990.2, 0.5], [1990.5, -0.5],
  [1990.8, -1.2], [1991.1, -0.8], [1991.4, -1.5], [1991.7, -2.3], [1992.0, -2.8], [1992.3, -3.3], [1992.6, -2.8],
  [1992.9, -1.8],
];

const psm99sSeries: Pt[] = [
  [1947.95, 0], [1948.2, 0.35], [1948.4, -0.3], [1948.6, -0.7], [1948.8, -1.5], [1949.0, -2.2], [1949.2, -1.5],
  [1949.4, -0.5], [1949.6, 0.25], [1949.8, 1.0], [1950.0, 1.8], [1950.2, 3.0], [1950.4, 3.8], [1950.6, 5.0],
  [1950.8, 4.8], [1950.95, 3.4], [1951.1, 1.8], [1951.2, 0.25], [1951.3, -1.5], [1951.4, -3.0], [1951.5, -3.5],
  [1951.65, -2.5], [1951.8, -1.5], [1952.0, -0.8], [1952.2, -0.5], [1952.5, -0.25], [1952.7, -0.35], [1952.9, -0.1],
  [1953.1, -0.3], [1953.3, -0.1], [1953.5, -0.25], [1953.7, -0.5], [1953.8, -0.9], [1954.0, -0.5], [1954.2, 0.45],
  [1954.4, 0.55], [1954.6, 0.35], [1954.8, 0.55], [1955.0, 0.45], [1955.2, 0.65], [1955.4, 0.45], [1955.6, 0.25],
  [1955.8, 0.35], [1956.0, -0.15], [1956.2, -0.5], [1956.4, -0.35], [1956.6, 0.05], [1956.8, -0.15],
  [1957.0, -0.45], [1957.2, -0.8], [1957.4, -1.0], [1957.6, -0.5], [1957.8, 0.05], [1958.0, 0.65], [1958.2, 0.85],
  [1958.4, 1.05], [1958.6, 0.55], [1958.8, 0.45], [1959.0, 0.55], [1959.2, 0.35], [1959.4, 0.15], [1959.6, -0.05],
  [1959.8, -0.15], [1960.0, -0.25], [1960.2, -0.15], [1960.4, -0.05], [1960.6, -0.35], [1960.8, -0.45],
  [1961.0, -0.15], [1961.2, 0.15], [1961.4, 0.25], [1961.6, 0.15], [1961.8, 0.05], [1962.0, -0.15], [1962.2, -0.25],
  [1962.4, -0.35], [1962.6, -0.15], [1962.8, -0.05], [1963.0, 0.05], [1963.2, 0.05], [1963.4, 0.15], [1963.6, 0.25],
  [1963.8, 0.35], [1964.0, 0.25], [1964.2, 0.35], [1964.4, 0.55], [1964.6, 0.65], [1964.7, 0.75], [1964.9, 0.45],
  [1965.1, 0.35], [1965.3, 0.35], [1965.5, 0.25], [1965.7, 0.25], [1965.9, 0.35], [1966.1, 0.3], [1966.3, 0.05],
  [1966.5, -0.35], [1966.7, -0.8], [1966.9, -1.0], [1967.1, -0.8], [1967.3, -0.35], [1967.5, 0.05], [1967.7, 0.35],
  [1967.9, 0.55], [1968.1, 0.55], [1968.3, 0.65], [1968.5, 0.85], [1968.7, 1.05], [1968.9, 0.85], [1969.1, 0.65],
  [1969.3, 0.55], [1969.5, 0.35], [1969.7, 0.05], [1969.9, -0.35], [1970.1, -0.7], [1970.3, -1.0], [1970.5, -0.7],
  [1970.7, -0.45], [1970.9, -0.05], [1971.1, 0.25], [1971.3, 0.55], [1971.5, 0.75], [1971.7, 0.95], [1971.9, 1.65],
  [1972.1, 1.75], [1972.3, 1.25], [1972.5, 1.45], [1972.7, 2.0], [1972.9, 2.2], [1973.1, 2.5], [1973.3, 2.6],
  [1973.5, 2.4], [1973.7, 2.8], [1973.85, 2.9], [1974.0, 2.2], [1974.2, 1.05], [1974.35, -0.15], [1974.5, -1.5],
  [1974.7, -2.9], [1974.85, -2.0], [1975.0, -0.5], [1975.2, 0.45], [1975.4, 0.65], [1975.6, 1.25], [1975.7, 1.45],
  [1975.9, 1.25], [1976.1, 1.55], [1976.3, 1.75], [1976.5, 1.25], [1976.7, 0.85], [1976.9, 1.05], [1977.1, 0.25],
  [1977.3, 0.15], [1977.5, 0.35], [1977.7, 0.25], [1977.9, 0.55], [1978.1, 0.85], [1978.3, 0.65], [1978.5, 1.05],
  [1978.7, 1.45], [1978.9, 1.25], [1979.1, 1.65], [1979.3, 1.75], [1979.5, 1.35], [1979.7, 1.45], [1979.9, 1.15],
  [1980.1, 1.45], [1980.3, 0.45], [1980.5, -0.55], [1980.6, -1.0], [1980.7, 0.45], [1980.9, 0.25], [1981.1, -0.15],
  [1981.3, 0.05], [1981.5, -0.35], [1981.7, -0.8], [1981.9, -1.2], [1982.1, -1.0], [1982.3, -0.5], [1982.5, 0.05],
  [1982.7, 0.45], [1982.9, 0.65], [1983.1, 1.05], [1983.3, 1.65], [1983.5, 2.0], [1983.6, 2.1], [1983.8, 1.85],
  [1984.0, 1.05], [1984.2, 0.25], [1984.4, -0.7], [1984.6, -1.0], [1984.8, -1.2], [1985.0, -0.8], [1985.2, -0.5],
  [1985.4, -0.35], [1985.6, -0.15], [1985.8, 0.05], [1986.0, 0.65], [1986.2, 0.85], [1986.4, 1.05], [1986.6, 1.35],
  [1986.8, 1.25], [1987.0, 1.35], [1987.2, 1.05], [1987.4, 1.25], [1987.6, 0.85], [1987.8, 0.65], [1988.0, 0.45],
  [1988.2, 0.85], [1988.4, 0.55], [1988.6, 0.85], [1988.8, 0.95], [1989.0, 0.65], [1989.2, 0.05], [1989.4, -0.7],
  [1989.5, -1.0], [1989.7, -0.35], [1989.9, 0.05], [1990.1, 0.25], [1990.3, 0.25], [1990.5, 0.05], [1990.7, -0.35],
  [1990.9, -0.8], [1991.1, -1.1], [1991.3, -0.8], [1991.5, -0.6], [1991.7, -0.35], [1991.9, 0.05], [1992.1, 0.55],
  [1992.3, 0.85], [1992.5, 0.45], [1992.7, -0.35], [1992.9, -0.5], [1993.05, -0.45],
];

// Y-axis tick values per panel
const dleadTicks = [40, 60, 80, 100, 120, 140];
const hsbpTicks = [100, 150, 200];
const fm2d82Ticks = [1000, 1500, 2000, 2500];
const fspcomTicks = [0, 100, 200, 300, 400];
const lphrmTicks = [38, 39, 40, 41];
const luincTicks = [200, 300, 400, 500, 600];
const mocm82Ticks = [20, 40, 60, 80, 100];
const mpcon8Ticks = [10, 20, 30, 40, 50];
const ivpacTicks = [20, 40, 60, 80, 100];
const hhsntnTicks = [50, 60, 70, 80, 90, 100];
const ivcud8Ticks = [-5, 0, 5, 10];
const psm99sTicks = [-2, 0, 2, 4];

function quarterly(start: number, values: number[]): Pt[] {
  return values.map((v, i) => [start + i * 0.25, v] as Pt);
}

interface PanelSpec {
  name: string;
  points: Pt[];
  yTicks: number[];
}

const panels: PanelSpec[] = [
  { name: "DLEAD", points: quarterly(dleadStartYear, dleadQuarterly), yTicks: dleadTicks },
  { name: "HSBP", points: hsbpSeries, yTicks: hsbpTicks },
  { name: "FM2D82", points: fm2d82Series, yTicks: fm2d82Ticks },
  { name: "FSPCOM", points: fspcomSeries, yTicks: fspcomTicks },
  { name: "LPHRM", points: lphrmSeries, yTicks: lphrmTicks },
  { name: "LUINC", points: luincSeries, yTicks: luincTicks },
  { name: "MOCM82", points: mocm82Series, yTicks: mocm82Ticks },
  { name: "MPCON8", points: mpcon8Series, yTicks: mpcon8Ticks },
  { name: "IVPAC", points: ivpacSeries, yTicks: ivpacTicks },
  { name: "HHSNTN", points: hhsntnSeries, yTicks: hhsntnTicks },
  { name: "IVCUD8", points: ivcud8Series, yTicks: ivcud8Ticks },
  { name: "PSM99S", points: psm99sSeries, yTicks: psm99sTicks },
];

// Page and panel geometry
const W = 1127;
const H = 903;
const COLS = 3;
const COL_STEP = 373;
const ROW_STEP = H / 4;
const BOX_LEFT = 32;
const BOX_TOP = 44.3;
const BOX_W = 330.5;
const BOX_H = 158;
const TICK_LEN = 4;
const FONT = "'Liberation Sans', Arial, Helvetica, sans-serif";
const TITLE_SIZE = 20;
const LABEL_SIZE = 14;

// Range padded by 4% on each side
function padRange([a, b]: [number, number]): [number, number] {
  const r = b - a;
  return [a - 0.04 * r, b + 0.04 * r];
}

const xDomain = padRange([seriesStart, seriesEnd]);

function Panel({ spec, index }: { spec: PanelSpec; index: number }) {
  const col = index % COLS;
  const row = Math.floor(index / COLS);
  const x0 = BOX_LEFT + col * COL_STEP;
  const y0 = BOX_TOP + row * ROW_STEP;
  const x = d3.scaleLinear().domain(xDomain).range([x0, x0 + BOX_W]);
  const ext = d3.extent(spec.points, (d) => d[1]) as [number, number];
  const y = d3.scaleLinear().domain(padRange(ext)).range([y0 + BOX_H, y0]);
  const line = d3
    .line<Pt>()
    .x((d) => x(d[0]))
    .y((d) => y(d[1]));
  const clipId = `clip-${spec.name}`;
  const bottom = y0 + BOX_H;

  return (
    <g>
      <defs>
        <clipPath id={clipId}>
          <rect x={x0} y={y0} width={BOX_W} height={BOX_H} />
        </clipPath>
      </defs>
      <text
        x={x0 + BOX_W / 2}
        y={y0 - 15}
        textAnchor="middle"
        fontSize={TITLE_SIZE}
        fill="#000"
      >
        {spec.name}
      </text>
      <path
        d={line(spec.points) ?? ""}
        fill="none"
        stroke="#000"
        strokeWidth={1.1}
        strokeLinejoin="round"
        clipPath={`url(#${clipId})`}
      />
      <rect x={x0} y={y0} width={BOX_W} height={BOX_H} fill="none" stroke="#000" strokeWidth={1} />
      {xTicks.map((t) => (
        <g key={`x${t}`}>
          <line x1={x(t)} x2={x(t)} y1={bottom} y2={bottom + TICK_LEN} stroke="#000" strokeWidth={1} />
          <text x={x(t)} y={bottom + 19.8} textAnchor="middle" fontSize={LABEL_SIZE} fill="#000">
            {t}
          </text>
        </g>
      ))}
      {spec.yTicks.map((t) => (
        <g key={`y${t}`}>
          <line x1={x0 - TICK_LEN} x2={x0} y1={y(t)} y2={y(t)} stroke="#000" strokeWidth={1} />
          <text
            transform={`translate(${x0 - 11},${y(t)}) rotate(-90)`}
            dy="0.36em"
            textAnchor="middle"
            fontSize={LABEL_SIZE}
            fill="#000"
          >
            {t}
          </text>
        </g>
      ))}
    </g>
  );
}

export default function App() {
  return (
    <svg
      width={W}
      height={H}
      viewBox={`0 0 ${W} ${H}`}
      style={{ position: "absolute", left: 0, top: 0, display: "block", background: "#fff" }}
      fontFamily={FONT}
    >
      <rect width={W} height={H} fill="#fff" />
      {panels.map((p, i) => (
        <Panel key={p.name} spec={p} index={i} />
      ))}
    </svg>
  );
}
